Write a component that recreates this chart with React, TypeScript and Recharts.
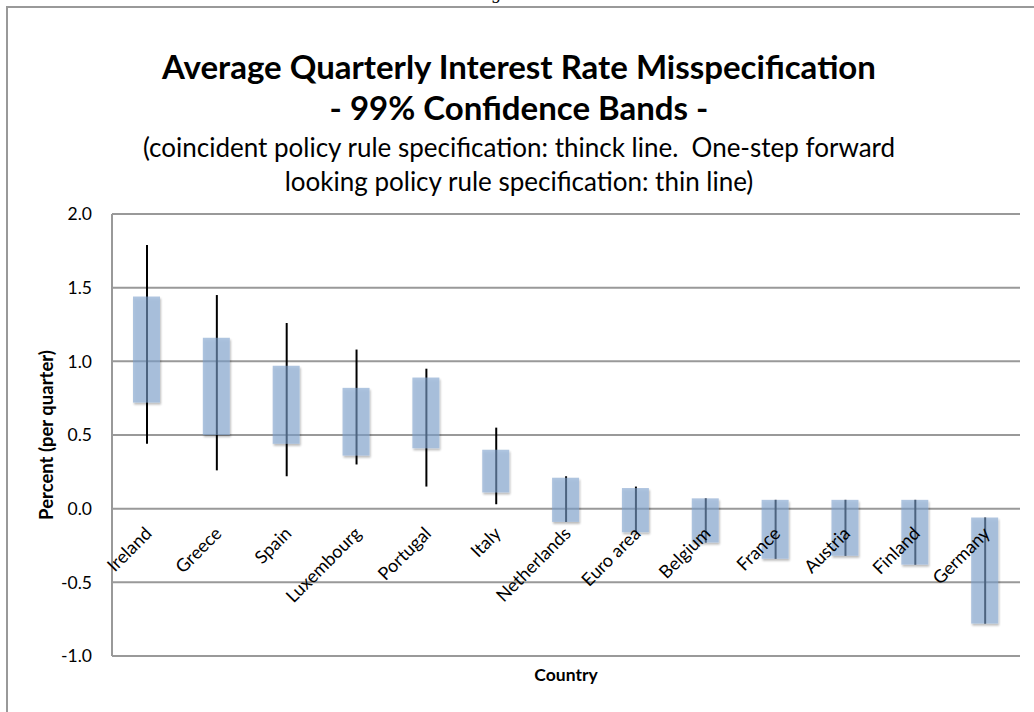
import { ComposedChart, Bar, XAxis, YAxis, CartesianGrid } from "recharts";

const countries = ["Ireland", "Greece", "Spain", "Luxembourg", "Portugal", "Italy", "Netherlands", "Euro area", "Belgium", "France", "Austria", "Finland", "Germany"];
// coincident rule (thick band)
const bandHigh = [1.44, 1.16, 0.97, 0.82, 0.89, 0.40, 0.21, 0.14, 0.07, 0.06, 0.06, 0.06, -0.06];
const bandLow = [0.72, 0.50, 0.44, 0.36, 0.41, 0.11, -0.09, -0.16, -0.23, -0.34, -0.32, -0.38, -0.78];
// one-step forward looking rule (thin line)
const lineHigh = [1.79, 1.45, 1.26, 1.08, 0.95, 0.55, 0.22, 0.15, 0.07, 0.06, 0.06, 0.06, -0.06];
const lineLow = [0.44, 0.26, 0.22, 0.30, 0.15, 0.03, -0.09, -0.16, -0.23, -0.34, -0.32, -0.38, -0.78];
const yTicks = [-1, -0.5, 0, 0.5, 1, 1.5, 2];

const rows = countries.map((c, i) => ({
  country: c,
  band: [bandLow[i], bandHigh[i]],
  whisker: [lineLow[i], lineHigh[i]],
}));

const W = 1034, H = 712;
const PLOT_TOP = 214, PLOT_BOTTOM = 656, PLOT_LEFT = 112, PLOT_RIGHT = 1020;
const Y_MIN = -1, Y_MAX = 2;
const zeroY = PLOT_TOP + ((PLOT_BOTTOM - PLOT_TOP) * Y_MAX) / (Y_MAX - Y_MIN);
const FONT = "Lato, 'Open Sans', sans-serif";
const GRID = "#999999";

function CategoryTick({ x, payload }: any) {
  const px = x + 6;
  const py = zeroY + 26;
  return (
    <text x={px} y={py} transform={`rotate(-45, ${px}, ${py})`} textAnchor="end" fontSize={18} fill="#000" fontFamily={FONT}>
      {payload.value}
    </text>
  );
}

function BandShape(p: any) {
  const y = Math.min(p.y, p.y + p.height);
  const h = Math.abs(p.height);
  return <rect x={p.x} y={y} width={p.width} height={h} fill="#7b9ecb" fillOpacity={0.6} filter="url(#bandShadow)" />;
}

export default function App() {
  return (
    <div style={{ position: "absolute", left: 0, top: 0, width: W, height: H, overflow: "hidden", background: "#fff", fontFamily: FONT }}>
      <div style={{ position: "absolute", left: 491, top: -14, fontFamily: "'DejaVu Serif', serif", fontSize: 16, lineHeight: "16px" }}>g</div>
      <div
        style={{
          position: "absolute", left: 6, top: 6, width: 1100, height: 800,
          borderLeft: `2px solid ${GRID}`, borderTop: `2px solid ${GRID}`,
        }}
      />
      <svg width={W} height={200} style={{ position: "absolute", left: 0, top: 0 }}>
        <g fontFamily={FONT} textAnchor="middle" fill="#000">
          <text x={519} y={79} fontSize={33} fontWeight={700}>Average Quarterly Interest Rate Misspecification</text>
          <text x={519} y={120} fontSize={33} fontWeight={700}>- 99% Confidence Bands -</text>
          <text x={519} y={157} fontSize={26} style={{ whiteSpace: "pre" }}>(coincident policy rule specification: thinck line.  One-step forward</text>
          <text x={519} y={191} fontSize={26}>looking policy rule specification: thin line)</text>
        </g>
      </svg>
      <div style={{ position: "absolute", left: 0, top: 0 }}>
        <ComposedChart
          width={W}
          height={H}
          data={rows}
          margin={{ top: PLOT_TOP, right: W - PLOT_RIGHT, bottom: H - PLOT_BOTTOM - 38, left: PLOT_LEFT - 76 }}
        >
          <defs>
            <filter id="bandShadow" x="-30%" y="-10%" width="160%" height="130%">
              <feGaussianBlur in="SourceAlpha" stdDeviation="1.3" result="b" />
              <feOffset in="b" dx="1" dy="2" result="o" />
              <feComposite in="o" in2="SourceAlpha" operator="out" result="s" />
              <feComponentTransfer in="s" result="s2">
                <feFuncA type="linear" slope="0.45" />
              </feComponentTransfer>
              <feMerge>
                <feMergeNode in="s2" />
                <feMergeNode in="SourceGraphic" />
              </feMerge>
            </filter>
          </defs>
          <CartesianGrid vertical={false} stroke={GRID} strokeWidth={2} xAxisId="main" />
          <XAxis
            xAxisId="main"
            dataKey="country"
            height={38}
            interval={0}
            axisLine={false}
            tickLine={false}
            tick={<CategoryTick />}
            label={{ value: "Country", position: "center", fontSize: 17.5, fontWeight: 700, fill: "#000", fontFamily: FONT }}
          />
          <XAxis xAxisId="w" dataKey="country" hide />
          <YAxis
            domain={[Y_MIN, Y_MAX]}
            ticks={yTicks}
            width={76}
            tickFormatter={(v: number) => v.toFixed(1)}
            tick={{ fill: "#000", fontSize: 17.5, fontFamily: FONT }}
            tickLine={false}
            tickSize={0}
            tickMargin={20}
            axisLine={{ stroke: GRID, strokeWidth: 2 }}
            label={{
              value: "Percent (per quarter)", angle: -90, position: "insideLeft", offset: 10,
              fontSize: 18.5, fontWeight: 700, fill: "#000", fontFamily: FONT,
              style: { textAnchor: "middle" },
            }}
          />
          <Bar xAxisId="w" dataKey="whisker" fill="#000" barSize={2} isAnimationActive={false} />
          <Bar xAxisId="main" dataKey="band" barSize={27} shape={BandShape} isAnimationActive={false} />
        </ComposedChart>
      </div>
    </div>
  );
}
